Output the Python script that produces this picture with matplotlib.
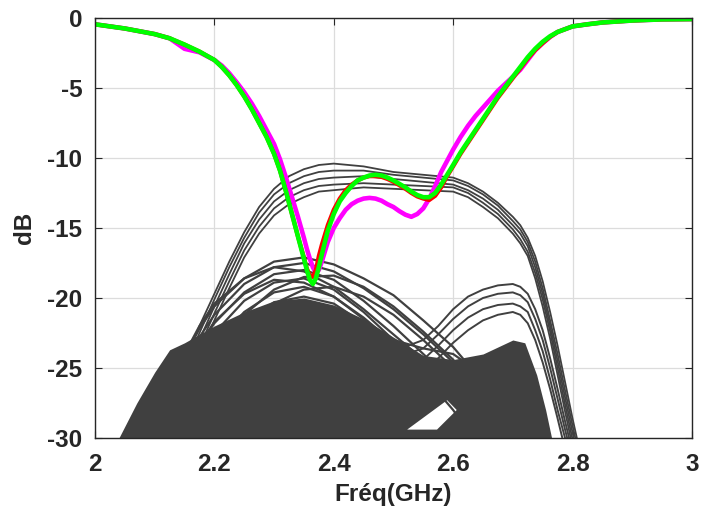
import numpy as np
import matplotlib
matplotlib.use("Agg")
import matplotlib.pyplot as plt

# --- colored S11 curves ---
freq_s = [2.0, 2.05, 2.1, 2.125, 2.15, 2.175, 2.2, 2.2125, 2.225, 2.2375, 2.25, 2.2625, 2.275,
          2.2875, 2.3, 2.31, 2.32, 2.33, 2.34, 2.35, 2.355, 2.36, 2.365, 2.37, 2.375, 2.38,
          2.39, 2.4, 2.41, 2.42, 2.43, 2.44, 2.45, 2.46, 2.47, 2.48, 2.49, 2.5, 2.51, 2.52,
          2.53, 2.54, 2.55, 2.56, 2.57, 2.58, 2.59, 2.6, 2.6125, 2.625, 2.6375, 2.65, 2.6625,
          2.675, 2.6875, 2.7, 2.7125, 2.725, 2.7375, 2.75, 2.7625, 2.775, 2.7875, 2.8, 2.825,
          2.85, 2.9, 2.95, 3.0]
green_db = [-0.45, -0.75, -1.15, -1.45, -1.9, -2.4, -3.0, -3.5, -4.1, -4.8, -5.6, -6.5, -7.5,
            -8.5, -9.7, -10.9, -12.4, -14.0, -15.6, -17.2, -18.0, -18.7, -19.0, -18.6, -17.8, -16.9,
            -15.2, -14.0, -13.1, -12.5, -12.0, -11.6, -11.4, -11.25, -11.2, -11.25, -11.4, -11.6, -11.85, -12.1,
            -12.4, -12.65, -12.8, -12.8, -12.5, -11.9, -11.2, -10.5, -9.6, -8.8, -8.0, -7.2, -6.4,
            -5.6, -4.9, -4.2, -3.5, -2.8, -2.2, -1.7, -1.3, -1.0, -0.8, -0.6, -0.45,
            -0.32, -0.18, -0.1, -0.08]
red_db = [-0.45, -0.75, -1.15, -1.45, -1.9, -2.4, -3.0, -3.5, -4.1, -4.8, -5.6, -6.5, -7.5,
          -8.5, -9.7, -10.9, -12.4, -14.0, -15.6, -17.1, -17.9, -18.4, -18.5, -18.0, -17.0, -16.2,
          -14.8, -13.7, -12.9, -12.3, -11.9, -11.6, -11.4, -11.3, -11.3, -11.35, -11.5, -11.7, -11.95, -12.2,
          -12.5, -12.75, -12.9, -13.0, -12.7, -12.1, -11.3, -10.6, -9.7, -8.9, -8.1, -7.3, -6.5,
          -5.7, -5.0, -4.3, -3.6, -2.9, -2.3, -1.8, -1.35, -1.0, -0.8, -0.6, -0.45,
          -0.32, -0.18, -0.1, -0.08]
magenta_db = [-0.45, -0.75, -1.15, -1.45, -2.2, -2.45, -3.0, -3.4, -3.95, -4.6, -5.3, -6.1, -7.0,
              -8.0, -9.0, -10.1, -11.4, -12.8, -14.2, -15.7, -16.5, -17.2, -17.8, -18.2, -18.0, -17.4,
              -16.0, -15.0, -14.3, -13.7, -13.3, -13.05, -12.9, -12.85, -12.9, -13.05, -13.3, -13.5, -13.8, -14.05,
              -14.2, -14.0, -13.6, -12.9, -12.0, -11.0, -10.2, -9.4, -8.5, -7.7, -7.0, -6.4, -5.8,
              -5.2, -4.7, -4.2, -3.7, -3.0, -2.3, -1.8, -1.35, -1.0, -0.8, -0.6, -0.45,
              -0.32, -0.18, -0.1, -0.08]

# --- gray curves: upper arcs ---
freq_a = [2.10, 2.125, 2.15, 2.175, 2.20, 2.225, 2.25, 2.275, 2.30, 2.325, 2.35, 2.375, 2.40,
          2.45, 2.50, 2.55, 2.60, 2.625, 2.65, 2.675, 2.70, 2.7125, 2.725, 2.7375, 2.75, 2.7625,
          2.775, 2.7875, 2.80, 2.8125, 2.825]
arcs_db = [
    [-29.5, -27.0, -24.5, -22.0, -19.7, -17.4, -15.3, -13.5, -12.2, -11.3, -10.8, -10.5, -10.4,
     -10.6, -11.0, -11.2, -11.4, -11.8, -12.4, -13.2, -14.2, -14.8, -15.7, -17.0, -18.8, -21.0,
     -23.4, -26.0, -28.6, -31.0, -33.0],
    [-30.0, -27.5, -25.0, -22.5, -20.1, -17.8, -15.7, -13.9, -12.6, -11.8, -11.3, -11.0, -10.9,
     -10.9, -11.2, -11.4, -11.6, -12.0, -12.6, -13.4, -14.5, -15.1, -16.0, -17.4, -19.3, -21.6,
     -24.0, -26.6, -29.1, -31.5, -33.5],
    [-30.5, -28.0, -25.5, -23.0, -20.6, -18.3, -16.1, -14.4, -13.1, -12.3, -11.8, -11.5, -11.4,
     -11.3, -11.5, -11.7, -11.9, -12.3, -12.9, -13.7, -14.8, -15.4, -16.3, -17.8, -19.7, -22.0,
     -24.5, -27.1, -29.6, -32.0, -34.0],
    [-31.0, -28.5, -26.0, -23.5, -21.1, -18.8, -16.6, -14.9, -13.6, -12.8, -12.3, -12.0, -11.9,
     -11.8, -11.9, -12.0, -12.1, -12.5, -13.2, -14.0, -15.1, -15.8, -16.7, -18.2, -20.1, -22.4,
     -25.0, -27.6, -30.1, -32.5, -34.5],
    [-31.5, -29.0, -26.5, -24.0, -21.6, -19.3, -17.1, -15.4, -14.1, -13.3, -12.8, -12.4, -12.3,
     -12.1, -12.2, -12.3, -12.4, -12.8, -13.5, -14.3, -15.4, -16.1, -17.0, -18.6, -20.6, -22.9,
     -25.5, -28.1, -30.6, -33.0, -35.0],
]

# --- gray curves: main bundle peaking near 2.35 GHz ---
freq_b = [2.05, 2.075, 2.10, 2.125, 2.15, 2.175, 2.20, 2.25, 2.30, 2.35, 2.40, 2.45, 2.50,
          2.55, 2.60, 2.65, 2.70]
bundle_db = [
    [-35, -32.2, -29.5, -26.8, -24.2, -22.2, -20.6, -18.6, -17.4, -17.1, -17.6, -18.6, -19.8, -21.6, -23.5, -26.0, -29.0],
    [-35.5, -32.7, -30.0, -27.3, -24.8, -22.8, -21.2, -19.0, -17.8, -17.5, -18.1, -19.3, -20.8, -22.6, -24.6, -27.0, -30.0],
    [-36, -33.2, -30.5, -27.9, -25.4, -23.4, -21.8, -19.6, -18.3, -18.0, -18.7, -20.2, -22.0, -24.0, -26.0, -28.5, -31.0],
    [-36, -33.4, -31.0, -28.4, -26.0, -24.0, -22.5, -20.2, -18.9, -18.6, -19.4, -21.0, -23.0, -25.0, -27.0, -29.5, -32.0],
    [-37, -34.4, -32.0, -29.4, -27.0, -25.0, -23.3, -21.0, -19.6, -19.2, -19.9, -21.5, -23.5, -25.5, -28.0, -31.0, -33.0],
    [-37, -34.7, -32.5, -30.1, -27.8, -25.8, -24.2, -21.8, -20.3, -19.9, -20.4, -21.8, -23.4, -24.6, -25.5, -27.0, -30.0],
    [-38, -35.5, -33.0, -30.7, -28.5, -26.6, -25.0, -22.6, -21.1, -20.6, -21.0, -22.0, -23.0, -23.6, -24.0, -25.5, -29.0],
    [-38, -35.7, -33.5, -31.2, -29.0, -27.2, -25.8, -23.4, -21.8, -21.2, -21.6, -22.6, -24.0, -25.6, -27.5, -30.0, -33.0],
    [-34, -31.5, -29.0, -26.4, -24.0, -22.0, -20.4, -18.6, -17.8, -18.1, -19.2, -20.8, -22.6, -24.4, -26.4, -29.0, -32.0],
    [-35, -32.5, -30.0, -27.6, -25.2, -23.3, -21.7, -19.7, -18.7, -18.9, -19.9, -21.4, -23.2, -25.2, -27.4, -30.0, -33.0],
    [-37, -34.5, -32.0, -29.6, -27.3, -25.4, -23.8, -21.2, -19.4, -18.5, -18.4, -19.2, -20.6, -22.4, -24.4, -27.0, -30.0],
    [-38, -35.5, -33.0, -30.6, -28.3, -26.4, -24.8, -22.2, -20.4, -19.4, -19.2, -19.9, -21.2, -23.0, -25.0, -27.6, -30.5],
]

# --- gray curves: second hump near 2.7 GHz ---
freq_c = [2.30, 2.35, 2.40, 2.45, 2.50, 2.55, 2.575, 2.60, 2.625, 2.65, 2.675, 2.70, 2.7125,
          2.725, 2.7375, 2.75, 2.7625, 2.775, 2.7875, 2.80]
hump_db = [
    [-24.0, -22.5, -22.2, -22.8, -23.8, -23.0, -22.0, -20.8, -19.9, -19.4, -19.1, -19.0, -19.2,
     -19.7, -20.8, -22.3, -24.3, -26.5, -28.8, -31.0],
    [-25.0, -23.5, -23.0, -23.5, -24.3, -23.6, -22.6, -21.5, -20.6, -20.0, -19.7, -19.6, -19.8,
     -20.3, -21.5, -23.0, -25.0, -27.2, -29.4, -31.5],
    [-26.0, -24.8, -24.2, -24.6, -25.2, -24.4, -23.4, -22.3, -21.4, -20.8, -20.5, -20.4, -20.6,
     -21.0, -22.3, -23.8, -25.8, -28.0, -30.0, -32.0],
    [-27.0, -26.0, -25.5, -25.8, -26.3, -25.3, -24.3, -23.2, -22.3, -21.6, -21.2, -21.0, -21.2,
     -21.8, -23.0, -24.6, -26.5, -28.6, -30.8, -33.0],
]

# --- solid dense region of gray traces (upper envelope) ---
dense_f = [2.04, 2.07, 2.10, 2.125, 2.15, 2.20, 2.25, 2.30, 2.35, 2.40, 2.45, 2.50,
           2.55, 2.60, 2.65, 2.70, 2.72, 2.74, 2.755, 2.765]
dense_top = [-30, -27.5, -25.3, -23.7, -23.2, -22.0, -21.0, -20.2, -20.0, -20.5, -21.5, -22.8,
             -24.1, -24.4, -24.0, -23.0, -23.2, -25.5, -28.0, -30.0]
hole_f = [2.523, 2.59, 2.606, 2.573]
hole_db = [-29.4, -27.3, -28.0, -29.4]

x_ticks = [2, 2.2, 2.4, 2.6, 2.8, 3]
x_labels = ["2", "2.2", "2.4", "2.6", "2.8", "3"]
y_ticks = [-30, -25, -20, -15, -10, -5, 0]

GRAY = "#404040"

plt.rcParams["font.family"] = ["Liberation Sans", "DejaVu Sans"]
plt.rcParams["font.weight"] = "bold"
plt.rcParams["axes.unicode_minus"] = False

fig = plt.figure(figsize=(7.01, 5.20), dpi=100)
ax = fig.add_axes([0.1355, 0.1577, 0.8515, 0.8077])

# dense mass of traces
ax.fill_between(dense_f, dense_top, -31, color=GRAY, lw=0)
ax.fill(hole_f, hole_db, color="white", lw=0)

for row in arcs_db:
    ax.plot(freq_a, row, color=GRAY, lw=1.3)
for row in bundle_db:
    ax.plot(freq_b, row, color=GRAY, lw=1.6)
for row in hump_db:
    ax.plot(freq_c, row, color=GRAY, lw=1.4)

ax.plot(freq_s, magenta_db, color="#ff00ff", lw=3.3, solid_capstyle="round")
ax.plot(freq_s, red_db, color="#ff0000", lw=3.0)
ax.plot(freq_s, green_db, color="#00ff00", lw=3.3, solid_capstyle="round")

ax.set_xlim(2, 3)
ax.set_ylim(-30, 0)
ax.set_xticks(x_ticks)
ax.set_xticklabels(x_labels)
ax.set_yticks(y_ticks)
ax.set_axisbelow(True)
ax.grid(True, color="#dcdcdc", lw=0.9)
ax.tick_params(direction="in", top=True, right=True, length=5, width=0.8,
               labelsize=17.5, colors="#262626")
ax.tick_params(axis="x", pad=11)
ax.tick_params(axis="y", pad=9)
for s in ax.spines.values():
    s.set_color("#262626")
    s.set_linewidth(1.0)

ax.set_xlabel("Fréq(GHz)", fontsize=17.5, fontweight="bold", color="#262626", labelpad=5)
ax.set_ylabel("dB", fontsize=17.5, fontweight="bold", color="#262626", labelpad=8)

fig.savefig("out.png", dpi=100)
